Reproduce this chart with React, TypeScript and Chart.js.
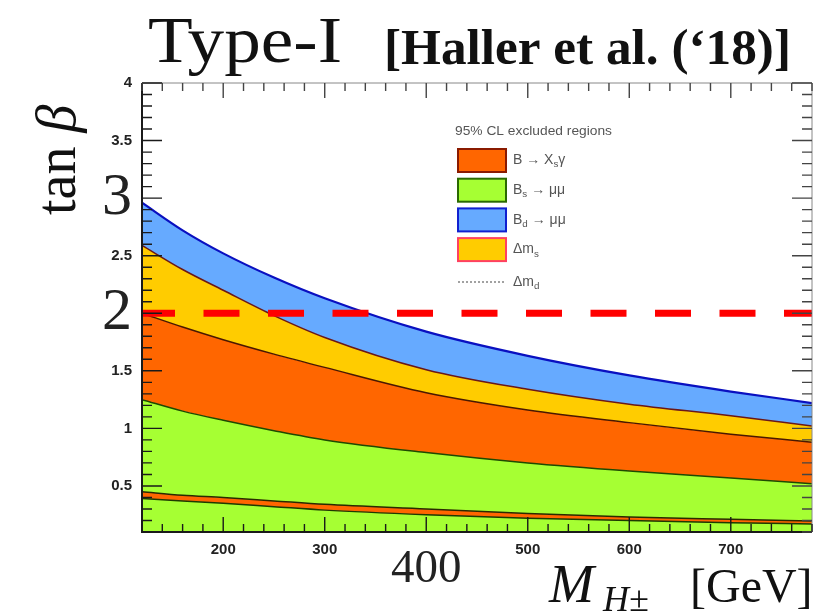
import { useEffect, useRef } from 'react';
import { Chart, registerables } from 'chart.js';
Chart.register(...registerables);

// ---- data ----
const massGeV = [120, 160, 200, 250, 300, 400, 500, 600, 700, 780];
const bdMuMuUpper = [2.96, 2.72, 2.52, 2.31, 2.13, 1.84, 1.63, 1.46, 1.32, 1.22];
const deltaMsUpper = [2.59, 2.38, 2.2, 1.98, 1.79, 1.51, 1.34, 1.21, 1.11, 1.02];
const bXsGammaUpper = [2.0, 1.88, 1.77, 1.645, 1.53, 1.31, 1.16, 1.05, 0.95, 0.88];
const bsMuMuUpper = [1.25, 1.15, 1.07, 0.98, 0.9, 0.79, 0.7, 0.63, 0.57, 0.52];
const lowOrangeUpper = [0.45, 0.42, 0.4, 0.37, 0.34, 0.3, 0.26, 0.23, 0.21, 0.195];
const lowOrangeLower = [0.39, 0.37, 0.35, 0.32, 0.29, 0.25, 0.22, 0.2, 0.18, 0.17];
const benchmarkTanBeta = 2;
const benchmarkRange = [120, 780];

const xTickValues = [200, 300, 400, 500, 600, 700];
const yTickValues = [0.5, 1, 1.5, 2, 2.5, 3, 3.5, 4];
const bigXTicks = [400];
const bigYTicks = [2, 3];

const legendTitle = '95% CL excluded regions';
const legendEntries: { parts: [string, boolean][]; fill: string; stroke: string; dotted?: boolean }[] = [
  { parts: [['B \u2192 X', false], ['s', true], ['\u03b3', false]], fill: '#ff6600', stroke: '#8a1a00' },
  { parts: [['B', false], ['s', true], [' \u2192 \u03bc\u03bc', false]], fill: '#a6ff33', stroke: '#2a6a00' },
  { parts: [['B', false], ['d', true], [' \u2192 \u03bc\u03bc', false]], fill: '#66aaff', stroke: '#1020d0' },
  { parts: [['\u0394m', false], ['s', true]], fill: '#ffcc00', stroke: '#ff4060' },
  { parts: [['\u0394m', false], ['d', true]], fill: '', stroke: '#444', dotted: true },
];

const SERIF = '"Liberation Serif", "Times New Roman", serif';
const SANS = '"Liberation Sans", Arial, sans-serif';

function drawRich(ctx: CanvasRenderingContext2D, x: number, y: number, parts: [string, boolean][], size: number) {
  let cx = x;
  for (const [t, sub] of parts) {
    const s = sub ? size * 0.7 : size;
    ctx.font = `${s}px ${SANS}`;
    ctx.fillText(t, cx, sub ? y + size * 0.3 : y);
    cx += ctx.measureText(t).width;
  }
}

function fitText(ctx: CanvasRenderingContext2D, text: string, x: number, y: number, width: number) {
  const w = ctx.measureText(text).width;
  ctx.save();
  ctx.translate(x, y);
  ctx.scale(width / w, 1);
  ctx.fillText(text, 0, 0);
  ctx.restore();
}

const overlay = {
  id: 'overlay',
  afterDraw(chart: any) {
    const { ctx, chartArea: a, scales } = chart;
    const xs = scales.x;
    const ys = scales.y;
    ctx.save();
    // frame
    ctx.strokeStyle = '#888';
    ctx.lineWidth = 1;
    ctx.beginPath();
    ctx.moveTo(a.left, a.top);
    ctx.lineTo(a.right, a.top);
    ctx.lineTo(a.right, a.bottom);
    ctx.stroke();
    ctx.strokeStyle = '#1a1a1a';
    ctx.lineWidth = 2;
    ctx.beginPath();
    ctx.moveTo(a.left, a.top);
    ctx.lineTo(a.left, a.bottom);
    ctx.lineTo(a.right, a.bottom);
    ctx.stroke();
    // inward ticks
    ctx.lineWidth = 1.4;
    ctx.strokeStyle = '#1a1a1a';
    ctx.beginPath();
    for (let v = 120; v <= 780; v += 20) {
      const px = xs.getPixelForValue(v);
      const len = v % 100 === 0 ? 15 : 8;
      ctx.moveTo(px, a.bottom);
      ctx.lineTo(px, a.bottom - len);
    }
    for (let i = 1; i <= 40; i++) {
      const py = ys.getPixelForValue(i / 10);
      const len = i % 5 === 0 ? 20 : 10;
      ctx.moveTo(a.left, py);
      ctx.lineTo(a.left + len, py);
    }
    ctx.stroke();
    ctx.strokeStyle = '#444';
    ctx.beginPath();
    for (let v = 120; v <= 780; v += 20) {
      const px = xs.getPixelForValue(v);
      const len = v % 100 === 0 ? 15 : 8;
      ctx.moveTo(px, a.top);
      ctx.lineTo(px, a.top + len);
    }
    for (let i = 1; i <= 40; i++) {
      const py = ys.getPixelForValue(i / 10);
      const len = i % 5 === 0 ? 20 : 10;
      ctx.moveTo(a.right, py);
      ctx.lineTo(a.right - len, py);
    }
    ctx.stroke();

    // title
    ctx.fillStyle = '#111';
    ctx.textAlign = 'left';
    ctx.textBaseline = 'alphabetic';
    ctx.font = `66px ${SERIF}`;
    fitText(ctx, 'Type-I', 148, 62, 194);
    ctx.font = `bold 50px ${SERIF}`;
    fitText(ctx, '[Haller et al. (\u201818)]', 384, 64, 407);

    // y axis title
    ctx.save();
    ctx.translate(75, 215);
    ctx.rotate(-Math.PI / 2);
    ctx.font = `56px ${SERIF}`;
    ctx.fillText('tan ', 0, 0);
    const tw = ctx.measureText('tan ').width;
    ctx.font = `italic 56px ${SERIF}`;
    ctx.fillText('\u03b2', tw, 0);
    ctx.restore();

    // x axis title
    ctx.font = `italic 54px ${SERIF}`;
    ctx.fillText('M', 549, 602);
    ctx.font = `italic 36px ${SERIF}`;
    ctx.fillText('H\u00b1', 603, 611);
    ctx.font = `48px ${SERIF}`;
    ctx.fillText('[GeV]', 690, 602);

    // legend
    ctx.fillStyle = '#555';
    ctx.textBaseline = 'middle';
    ctx.font = `13.5px ${SANS}`;
    fitText(ctx, legendTitle, 455, 131, 157);
    legendEntries.forEach((e, i) => {
      const top = 149 + i * 29.7;
      if (e.dotted) {
        ctx.save();
        ctx.strokeStyle = e.stroke;
        ctx.lineWidth = 1.2;
        ctx.setLineDash([2, 2]);
        ctx.beginPath();
        ctx.moveTo(458, 282);
        ctx.lineTo(506, 282);
        ctx.stroke();
        ctx.restore();
        ctx.fillStyle = '#555';
        drawRich(ctx, 513, 282, e.parts, 14);
      } else {
        ctx.fillStyle = e.fill;
        ctx.fillRect(458, top, 48, 23);
        ctx.strokeStyle = e.stroke;
        ctx.lineWidth = 2;
        ctx.strokeRect(458, top, 48, 23);
        ctx.fillStyle = '#555';
        drawRich(ctx, 513, top + 11.5, e.parts, 14);
      }
    });
    ctx.restore();
  },
};

export default function App() {
  const ref = useRef<HTMLCanvasElement>(null);
  useEffect(() => {
    if (!ref.current) return;
    const pts = (ys: number[]) => massGeV.map((m, i) => ({ x: m, y: ys[i] }));
    const band = (ys: number[], fillColor: string, line: string, fill: any, bw = 1.5) => ({
      data: pts(ys),
      borderColor: line,
      backgroundColor: fillColor,
      borderWidth: bw,
      fill,
      pointRadius: 0,
      cubicInterpolationMode: 'monotone' as const,
    });
    const chart = new Chart(ref.current, {
      type: 'line',
      data: {
        datasets: [
          { label: 'Bd', ...band(bdMuMuUpper, '#66aaff', '#0a10c0', '+1', 2.2) },
          { label: 'dMs', ...band(deltaMsUpper, '#ffcc00', '#6a1818', '+1') },
          { label: 'bsg', ...band(bXsGammaUpper, '#ff6600', '#4a1800', '+1') },
          { label: 'Bs', ...band(bsMuMuUpper, '#a6ff33', '#1e4a00', '+1') },
          { label: 'bsgLowTop', ...band(lowOrangeUpper, '#ff6600', '#2a2a00', '+1') },
          { label: 'bsgLowBot', ...band(lowOrangeLower, '#a6ff33', '#1e3a00', 'start') },
          {
            label: 'bench',
            data: benchmarkRange.map((m) => ({ x: m, y: benchmarkTanBeta })),
            borderColor: '#ff0000',
            borderWidth: 7,
            borderDash: [36, 28.5],
            borderDashOffset: 3,
            fill: false,
            pointRadius: 0,
            order: -1,
            borderCapStyle: 'butt',
          } as any,
        ],
      },
      options: {
        animation: false,
        responsive: false,
        events: [],
        layout: { padding: { top: 83, right: 28, bottom: 0, left: 0 } },
        plugins: {
          legend: { display: false },
          tooltip: { enabled: false },
          filler: { drawTime: 'beforeDatasetsDraw' },
        },
        scales: {
          x: {
            type: 'linear',
            min: 120,
            max: 780,
            afterBuildTicks: (s: any) => {
              s.ticks = xTickValues.map((v) => ({ value: v }));
            },
            afterFit: (s: any) => {
              s.height = 81;
            },
            grid: { display: false, drawTicks: false },
            border: { display: false },
            ticks: {
              padding: 9,
              color: '#222',
              maxRotation: 0,
              autoSkip: false,
              font: (c: any) =>
                c.tick && bigXTicks.includes(c.tick.value)
                  ? { family: SERIF, size: 47, weight: 'normal' }
                  : { family: SANS, size: 15, weight: 'bold' },
              callback: (v: any) => String(v),
            },
          },
          y: {
            type: 'linear',
            min: 0.1,
            max: 4,
            afterBuildTicks: (s: any) => {
              s.ticks = yTickValues.map((v) => ({ value: v }));
            },
            afterFit: (s: any) => {
              s.width = 142;
            },
            grid: { display: false, drawTicks: false },
            border: { display: false },
            ticks: {
              padding: 10,
              color: '#222',
              autoSkip: false,
              font: (c: any) =>
                c.tick && bigYTicks.includes(c.tick.value)
                  ? { family: SERIF, size: 60, weight: 'normal' }
                  : { family: SANS, size: 15, weight: 'bold' },
              callback: (v: any) => String(v),
            },
          },
        },
      },
      plugins: [overlay],
    });
    return () => chart.destroy();
  }, []);
  return (
    <div style={{ position: 'fixed', left: 0, top: 0, width: 840, height: 613, background: '#fff' }}>
      <canvas ref={ref} width={840} height={613} style={{ display: 'block' }} />
    </div>
  );
}
